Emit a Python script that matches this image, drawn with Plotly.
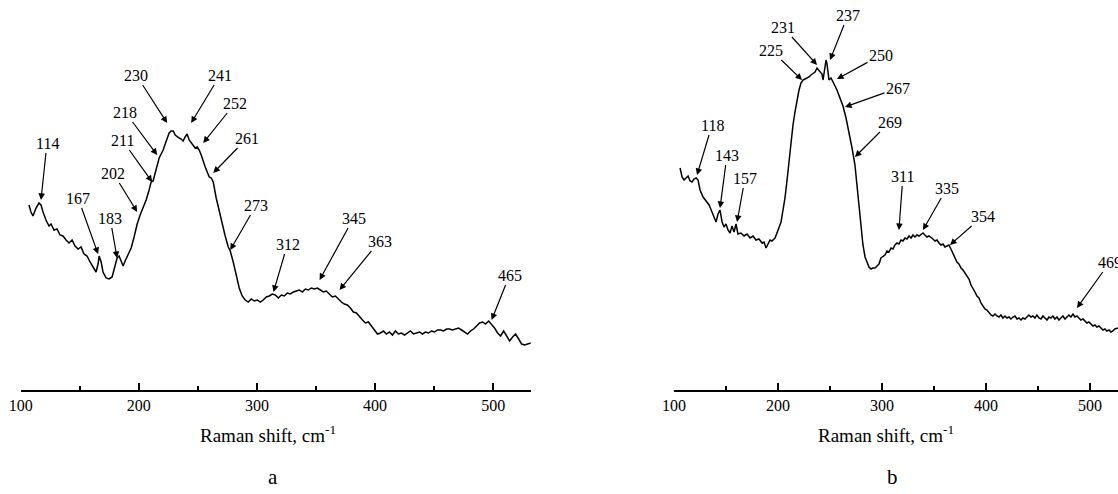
import plotly.graph_objects as go

SERIF = "Liberation Serif, Times New Roman, serif"

# ---------------- panel a ----------------
left_shift = [107.0, 108.7, 110.4, 113.0, 115.5, 117.2, 118.9, 121.4, 124.0, 125.7, 128.2, 130.8, 133.3, 135.8,
              138.4, 140.9, 143.5, 146.0, 148.6, 151.1, 153.6, 156.2, 158.7, 161.3, 163.8, 165.5, 166.4, 168.1,
              169.7, 172.3, 174.8, 177.4, 179.1, 181.6, 183.3, 185.0, 186.7, 188.4, 190.9, 193.5, 196.0, 198.6,
              201.1, 203.6, 206.2, 208.7, 210.4, 212.1, 213.8, 215.5, 217.2, 218.9, 220.6, 222.3, 224.0, 225.7,
              227.4, 229.1, 230.8, 232.5, 234.2, 235.8, 237.5, 239.2, 240.9, 242.6, 244.3, 246.0, 247.7, 249.4,
              251.1, 252.8, 254.5, 256.2, 257.9, 259.6, 261.3, 263.0, 265.5, 268.1, 270.6, 273.1, 275.7, 277.4,
              279.9, 282.5, 285.0, 287.5, 290.1, 292.6, 295.2, 297.7, 300.3, 302.8, 305.3, 307.9, 310.4, 313.0,
              315.5, 318.1, 320.6, 323.1, 325.7, 328.2, 330.8, 333.3, 335.9, 338.4, 341.0, 343.5, 346.0, 348.6,
              351.1, 353.7, 356.2, 358.7, 361.3, 363.8, 366.4, 368.9, 371.5, 374.0, 376.5, 379.1, 381.6, 384.2,
              386.7, 389.3, 391.8, 394.3, 396.9, 399.4, 402.0, 404.5, 407.1, 409.6, 412.1, 414.7, 417.2, 419.8,
              422.3, 424.9, 427.4, 429.9, 432.5, 435.0, 437.6, 440.1, 442.7, 445.2, 447.7, 450.3, 452.8, 455.4,
              457.9, 460.5, 463.0, 465.5, 468.1, 470.6, 473.2, 475.7, 478.3, 480.8, 483.3, 485.9, 488.4, 491.0,
              493.5, 496.1, 498.6, 501.1, 503.7, 506.2, 508.8, 511.3, 513.9, 516.4, 518.9, 521.5, 524.0, 526.6,
              529.1, 531.7]
left_intensity = [185, 178, 174, 182, 187, 185, 178, 170, 164, 166, 160, 161, 155, 154,
                  150, 147, 150, 144, 141, 143, 136, 134, 128, 123, 118, 126, 134, 128,
                  118, 112, 111, 113, 122, 132, 134, 128, 124, 129, 135, 142, 153, 166,
                  175, 182, 190, 200, 208, 209, 217, 227, 232, 236, 240, 246, 252, 257,
                  259, 259, 255, 253, 252, 251, 249, 253, 256, 250, 247, 245, 242, 243,
                  240, 235, 230, 223, 218, 213, 212, 208, 192, 178, 165, 154, 143, 139,
                  128, 113, 102, 94, 90, 88, 91, 89, 90, 88, 90, 93, 94, 96,
                  95, 92, 95, 94, 97, 96, 98, 99, 100, 98, 101, 100, 102, 101,
                  102, 100, 98, 99, 96, 93, 94, 91, 88, 86, 85, 82, 78, 77,
                  73, 70, 67, 68, 64, 60, 56, 57, 59, 56, 58, 55, 59, 56,
                  57, 55, 57, 59, 56, 57, 58, 56, 58, 57, 59, 58, 60, 60,
                  59, 61, 61, 60, 61, 62, 60, 58, 56, 59, 61, 64, 67, 68,
                  66, 69, 66, 62, 57, 54, 59, 54, 49, 53, 56, 51, 46, 45,
                  46, 47]

left_labels = ["114", "167", "183", "202", "211", "218", "230", "241", "252", "261", "273", "312", "345", "363", "465"]
left_peak_x = [117.2, 165.5, 181.6, 198.6, 211.3, 215.5, 224.0, 244.3, 254.5, 263.0, 277.4, 314.0, 353.0, 369.9, 498.6]
left_peak_y = [190, 136, 132, 178, 208, 235, 267, 267, 247, 217, 140, 98, 110, 100, 70]
left_label_dx = [6, -20, -7, -24, -30, -32, -31, 29, 32, 34, 26, 14, 34, 40, 18]
left_label_dy = [-57, -56, -40, -39, -42, -43, -48, -48, -40, -35, -45, -48, -62, -49, -45]

# ---------------- panel b ----------------
right_shift = [105.8, 107.7, 109.6, 111.5, 113.5, 115.4, 117.3, 119.2, 121.2, 123.1, 125.0, 127.9, 130.8, 133.7,
               136.5, 138.5, 140.4, 142.3, 144.2, 146.2, 148.1, 150.0, 151.9, 153.8, 155.8, 157.7, 159.6, 161.5,
               164.4, 167.3, 170.2, 173.1, 176.0, 178.8, 181.7, 184.6, 186.5, 188.5, 190.4, 192.3, 194.2, 197.1,
               199.0, 201.0, 202.9, 204.8, 206.7, 208.7, 210.6, 212.5, 214.4, 216.3, 218.3, 220.2, 222.1, 224.0,
               226.0, 227.9, 229.8, 231.7, 233.7, 235.6, 237.5, 239.4, 241.3, 242.3, 243.3, 244.2, 245.2, 246.2,
               247.1, 248.1, 249.0, 251.0, 252.9, 254.8, 256.7, 259.6, 262.5, 265.4, 268.3, 271.2, 274.0, 276.0,
               277.9, 279.8, 281.7, 283.7, 285.6, 287.5, 289.4, 291.3, 293.3, 295.2, 297.1, 299.0, 301.0, 302.9,
               304.8, 306.7, 308.7, 310.6, 312.5, 314.4, 316.3, 318.3, 320.2, 322.1, 324.0, 326.0, 327.9, 329.8,
               331.7, 333.7, 335.6, 337.5, 339.4, 341.3, 343.3, 345.2, 347.1, 349.0, 351.0, 352.9, 354.8, 356.7,
               358.7, 360.6, 362.5, 364.4, 366.3, 368.3, 370.2, 372.1, 374.0, 376.0, 377.9, 379.8, 381.7, 383.7,
               385.6, 387.5, 389.4, 391.3, 393.3, 395.2, 397.1, 399.0, 401.0, 402.9, 404.8, 406.7, 408.7, 410.6,
               412.5, 414.4, 416.3, 418.3, 420.2, 422.1, 424.0, 426.0, 427.9, 429.8, 431.7, 433.7, 435.6, 437.5,
               439.4, 441.3, 443.3, 445.2, 447.1, 449.0, 451.0, 452.9, 454.8, 456.7, 458.7, 460.6, 462.5, 464.4,
               466.3, 468.3, 470.2, 472.1, 474.0, 476.0, 477.9, 479.8, 481.7, 483.7, 485.6, 487.5, 489.4, 491.3,
               493.3, 495.2, 497.1, 499.0, 501.0, 502.9, 504.8, 506.7, 508.7, 510.6, 512.5, 514.4, 516.3, 518.3,
               520.2, 522.1, 524.0, 526.9]
right_intensity = [222, 213, 210, 212, 214, 209, 208, 211, 212, 210, 200, 193, 189, 185,
                   178, 172, 168, 176, 180, 168, 163, 166, 160, 157, 164, 158, 166, 156,
                   157, 154, 156, 152, 154, 150, 151, 147, 148, 142, 146, 150, 149, 152,
                   157, 162, 168, 180, 192, 210, 230, 250, 265, 278, 290, 300, 307, 310,
                   311, 312, 313, 315, 317, 318, 322, 320, 318, 316, 310, 318, 326, 330,
                   326, 316, 310, 312, 308, 304, 300, 292, 284, 272, 258, 242, 225, 205,
                   185, 165, 145, 133, 127, 123, 121, 122, 122, 124, 126, 132, 134, 135,
                   139, 138, 142, 141, 145, 147, 146, 150, 149, 152, 151, 154, 152, 155,
                   153, 155, 154, 156, 157, 155, 153, 154, 152, 151, 149, 150, 147, 145,
                   146, 143, 144, 145, 141, 137, 132, 128, 126, 122, 120, 117, 113, 111,
                   105, 102, 98, 94, 92, 87, 84, 81, 80, 77, 75, 74, 76, 74,
                   73, 75, 72, 74, 72, 73, 71, 73, 74, 71, 72, 70, 72, 71,
                   73, 75, 73, 74, 72, 75, 72, 71, 74, 72, 70, 73, 72, 74,
                   71, 73, 70, 72, 74, 71, 73, 75, 73, 76, 73, 74, 72, 70,
                   71, 69, 67, 68, 66, 64, 65, 63, 64, 62, 60, 61, 59, 60,
                   58, 59, 61, 62]

right_labels = ["118", "143", "157", "225", "231", "237", "250", "267", "269", "311", "335", "354", "469"]
right_peak_x = [122.1, 144.2, 160.6, 223.1, 237.5, 250.0, 256.7, 264.4, 274.0, 316.3, 339.4, 365.4, 487.5]
right_peak_y = [215, 182, 168, 310, 325, 330, 311, 283, 233, 160, 160, 145, 82]
right_label_dx = [15, 7, 8, -31, -34, 18, 44, 53, 35, 4, 24, 33, 33]
right_label_dy = [-50, -53, -44, -30, -38, -45, -24, -19, -35, -54, -42, -29, -46]

# ---------------- axes ----------------
major_ticks = [100, 200, 300, 400, 500]
major_tick_text = ["100", "200", "300", "400", "500"]
minor_ticks = [150, 250, 350, 450]
left_range = [100, 532]
right_range = [100, 527]
intensity_range = [0, 390]
axis_title = "Raman shift, cm<sup>-1</sup>"
panel_letters = ["a", "b"]

fig = go.Figure()
fig.add_trace(go.Scatter(x=left_shift, y=left_intensity, mode="lines",
                         line=dict(color="black", width=1.5), xaxis="x", yaxis="y",
                         showlegend=False, hoverinfo="skip"))
fig.add_trace(go.Scatter(x=right_shift, y=right_intensity, mode="lines",
                         line=dict(color="black", width=1.5), xaxis="x2", yaxis="y2",
                         showlegend=False, hoverinfo="skip"))

xaxis_style = dict(showline=True, linecolor="black", linewidth=1.5, mirror=False,
                   automargin=False,
                   ticks="inside", ticklen=7, tickwidth=1.5, tickcolor="black",
                   tickmode="array", tickvals=major_ticks, ticktext=major_tick_text,
                   showgrid=False, zeroline=False,
                   tickfont=dict(family=SERIF, size=16, color="black"),
                   minor=dict(tickmode="array", tickvals=minor_ticks, ticks="inside", ticklen=4,
                              tickwidth=1.5, tickcolor="black", showgrid=False))
yaxis_style = dict(visible=False, automargin=False, range=intensity_range, domain=[0, 1], fixedrange=True)

annotations = []
for labels, px, py, dx, dy, xr, yr in [
    (left_labels, left_peak_x, left_peak_y, left_label_dx, left_label_dy, "x", "y"),
    (right_labels, right_peak_x, right_peak_y, right_label_dx, right_label_dy, "x2", "y2"),
]:
    for t, x, y, ax, ay in zip(labels, px, py, dx, dy):
        annotations.append(dict(x=x, y=y, xref=xr, yref=yr, text=t, showarrow=True,
                                arrowhead=2, arrowsize=1.1, arrowwidth=1.2, arrowcolor="black",
                                ax=ax, ay=ay, standoff=0, startstandoff=0,
                                font=dict(family=SERIF, size=16, color="black")))

for cx, lx, letter in [(0.2397, 0.2442, panel_letters[0]), (0.7925, 0.7987, panel_letters[1])]:
    annotations.append(dict(x=cx, y=-0.112, xref="paper", yref="paper", text=axis_title,
                            showarrow=False, xanchor="center", yanchor="middle",
                            font=dict(family=SERIF, size=19, color="black")))
    annotations.append(dict(x=lx, y=-0.222, xref="paper", yref="paper", text=letter,
                            showarrow=False, xanchor="center", yanchor="middle",
                            font=dict(family=SERIF, size=21, color="black")))

fig.update_layout(
    template="none",
    width=1118, height=494,
    margin=dict(l=0, r=0, t=0, b=104, pad=0),
    paper_bgcolor="white", plot_bgcolor="white",
    xaxis=dict(xaxis_style, range=left_range, domain=[0.0185, 0.475], anchor="y"),
    yaxis=dict(yaxis_style, anchor="x"),
    xaxis2=dict(xaxis_style, range=right_range, domain=[0.6029, 1.0], anchor="y2"),
    yaxis2=dict(yaxis_style, anchor="x2"),
    annotations=annotations,
    showlegend=False,
)

fig.write_html("out.html", config={"displayModeBar": False, "staticPlot": True},
               post_script="document.body.style.margin='0';document.body.style.overflow='hidden';")
